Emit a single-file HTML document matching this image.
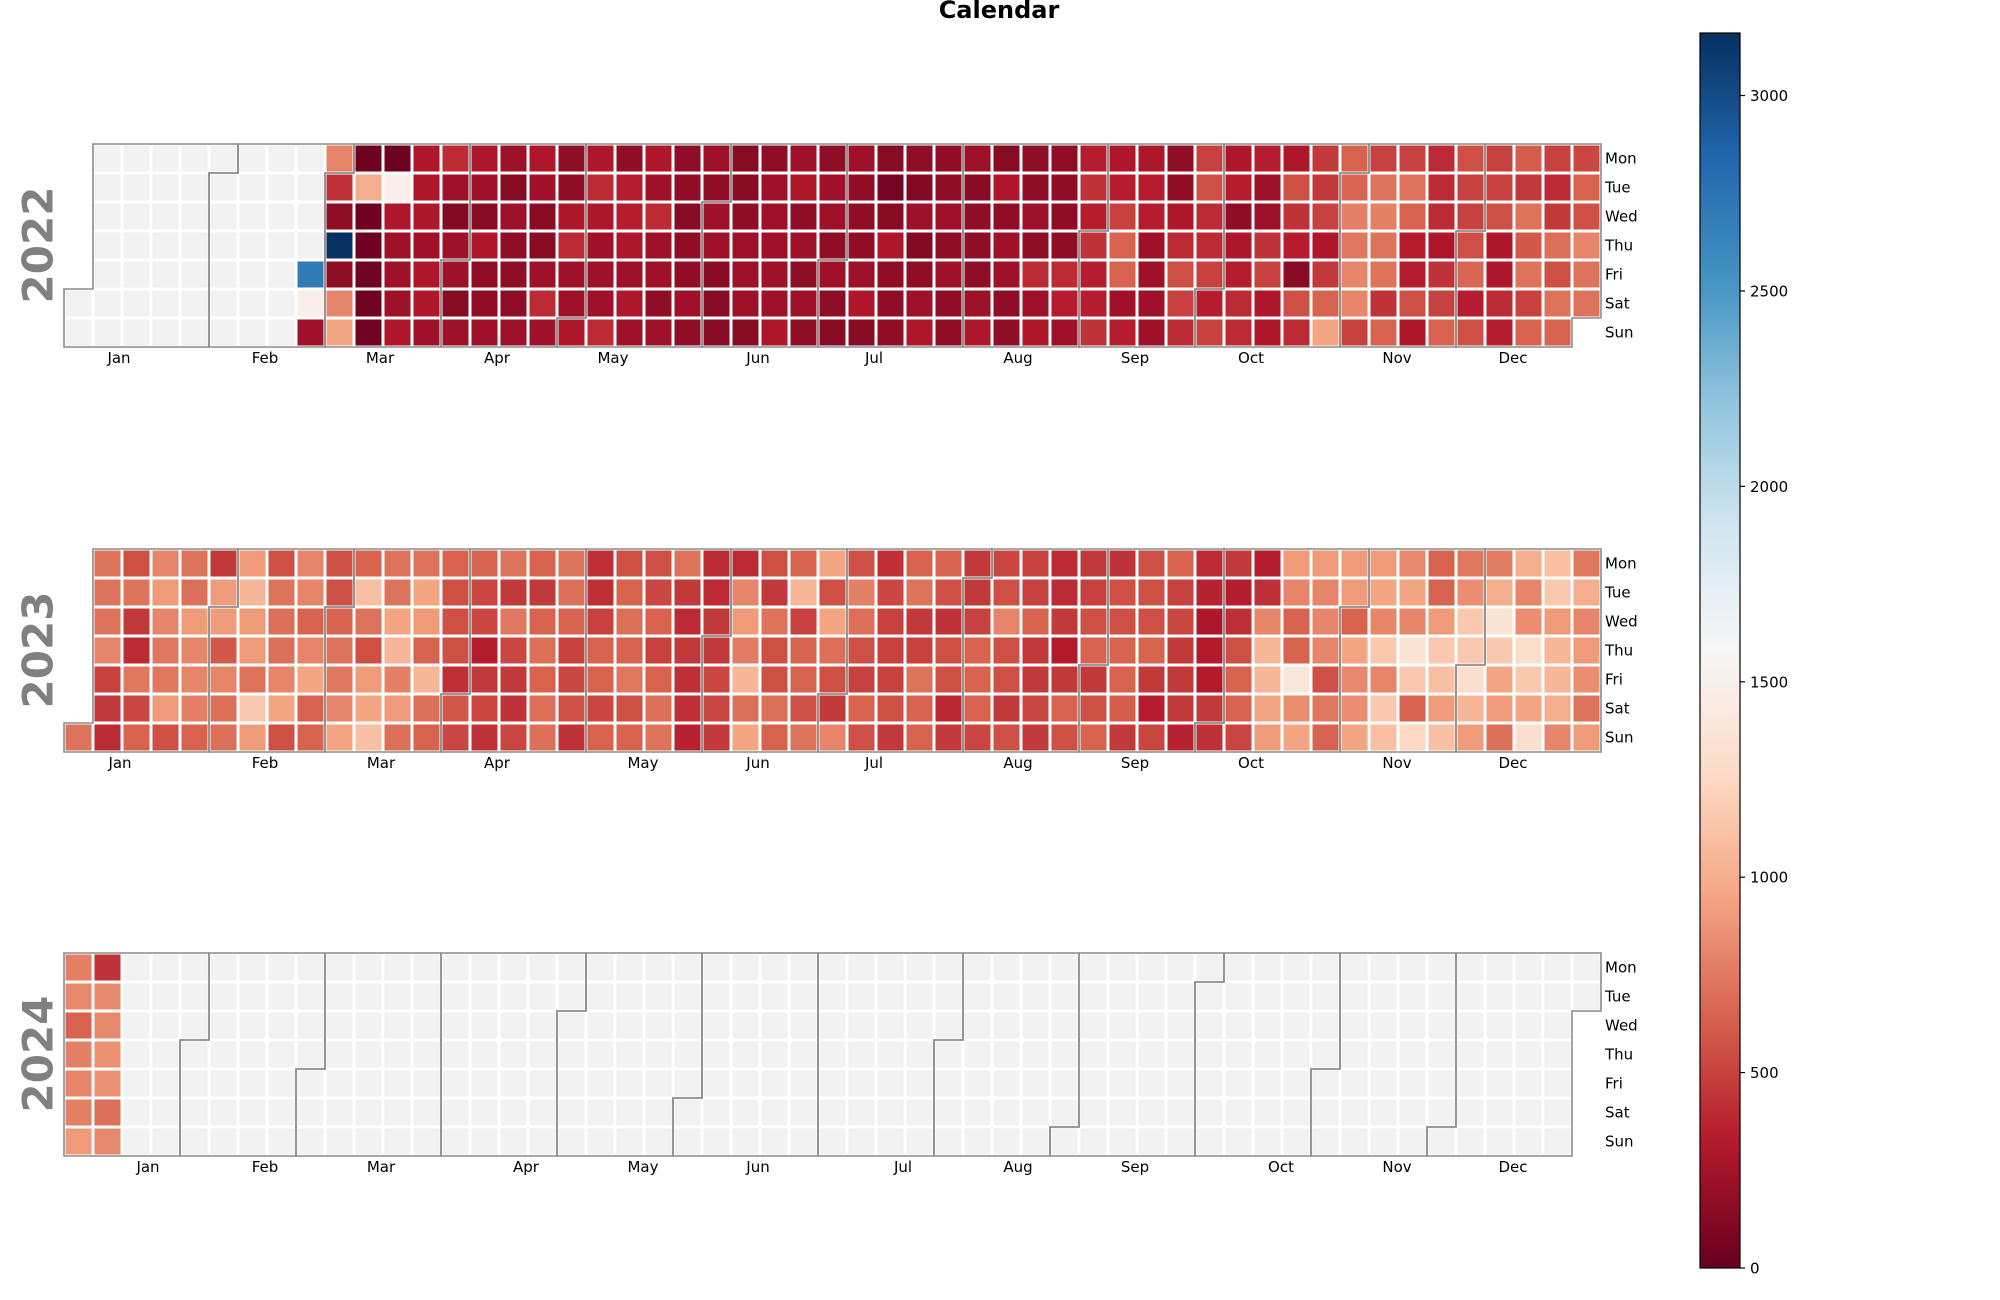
<!DOCTYPE html>
<html><head><meta charset="utf-8"><style>
html,body{margin:0;padding:0;background:#fff;}
svg{display:block;font-family:"DejaVu Sans","Liberation Sans",sans-serif;}
</style></head><body>
<svg id="chart" width="2000" height="1300" viewBox="0 0 2000 1300" xmlns="http://www.w3.org/2000/svg">
<defs>
<linearGradient id="rdbu" x1="0" y1="1" x2="0" y2="0">
<stop offset="0" stop-color="#67001f"/><stop offset="0.1" stop-color="#b2182b"/><stop offset="0.2" stop-color="#d6604d"/><stop offset="0.3" stop-color="#f4a582"/><stop offset="0.4" stop-color="#fddbc7"/><stop offset="0.5" stop-color="#f7f7f7"/><stop offset="0.6" stop-color="#d1e5f0"/><stop offset="0.7" stop-color="#92c5de"/><stop offset="0.8" stop-color="#4393c3"/><stop offset="0.9" stop-color="#2166ac"/><stop offset="1" stop-color="#053061"/>
</linearGradient>
</defs>
<text x="999" y="18" text-anchor="middle" font-size="24" font-weight="bold" fill="#000">Calendar</text>
</svg>
<script>
const years = [2022, 2023, 2024];
const vmin = 0, vmax = 3160;
const cbTicks = [0, 500, 1000, 1500, 2000, 2500, 3000];
const dayNames = ["Mon","Tue","Wed","Thu","Fri","Sat","Sun"];
const monthNames = ["Jan","Feb","Mar","Apr","May","Jun","Jul","Aug","Sep","Oct","Nov","Dec"];
const N = null;
const n8 = [N,N,N,N,N,N,N,N];
// 2022 values by weekday row, indexed by week column
const v2022Mon = [...n8,N,800,30,30,300,400,300,230,300,170,300,170,300,170,230,140,170,230,170,230,140,170,170,230,140,170,170,340,300,300,170,500,300,340,300,460,640,500,500,400,560,500,620,500,520];
const v2022Tue = [...n8,N,430,1000,1480,300,230,230,140,230,170,400,340,230,170,170,140,230,300,230,170,60,120,170,140,300,170,170,430,340,340,170,560,340,230,560,460,660,720,720,400,500,500,460,400,640];
const v2022Wed = [...n8,N,170,30,300,300,120,140,230,140,300,300,340,400,140,230,170,230,170,230,170,140,230,230,170,170,230,170,340,500,340,300,400,170,230,430,500,780,780,640,400,500,560,720,460,560];
const v2022Thu = [...n8,N,3158,30,230,230,230,300,170,140,400,230,300,230,170,230,230,230,230,170,170,300,120,170,170,230,170,170,430,640,230,400,400,300,430,340,300,740,720,340,300,560,300,600,700,800];
const v2022Fri = [...n8,2700,170,40,230,300,230,170,170,230,230,230,230,230,170,140,230,230,170,230,230,170,170,230,170,230,400,400,340,640,230,560,500,340,500,140,460,800,720,340,430,660,300,720,560,720];
const v2022Sat = [...n8,1480,800,40,230,300,140,170,170,400,230,230,300,170,230,140,230,230,230,170,300,170,230,170,230,170,230,340,340,230,230,500,340,400,300,560,640,800,430,560,500,340,400,500,720,720];
const v2022Sun = [...n8,230,950,40,300,230,230,230,230,230,300,400,230,230,170,140,140,300,170,140,140,170,300,170,300,170,300,230,430,340,230,400,500,400,300,400,950,500,640,300,640,560,340,640,640,N];
// 2023
const v2023Mon = [N,720,560,800,720,460,900,560,800,560,640,720,720,640,640,720,640,720,420,560,560,720,400,400,560,640,950,560,420,640,640,460,520,500,400,460,430,560,640,400,460,330,900,900,900,900,820,640,740,760,1000,1100,740];
const v2023Tue = [N,720,720,900,700,900,1050,720,800,560,1100,720,950,560,520,460,460,700,420,640,520,460,400,800,460,1050,560,780,520,720,560,460,560,500,400,500,560,560,500,360,340,420,800,800,900,950,950,640,840,1000,800,1150,1000];
const v2023Wed = [N,720,460,800,900,900,900,700,640,640,720,950,900,560,520,740,640,640,500,700,640,400,460,900,720,500,950,700,500,460,430,500,800,640,460,560,560,560,520,300,420,800,640,800,640,800,800,900,1150,1350,840,900,800];
const v2023Thu = [N,800,400,740,800,600,900,700,800,720,560,1050,640,560,340,520,700,500,640,640,500,460,460,760,560,640,700,560,500,500,560,640,560,460,320,640,640,640,460,320,560,1050,640,800,950,1150,1350,1150,1150,1150,1300,1050,900];
const v2023Fri = [N,500,740,740,800,800,720,800,950,740,900,780,1050,420,460,460,640,520,640,740,640,420,520,1050,560,640,560,500,500,720,560,640,560,460,460,460,640,460,460,320,640,1050,1400,560,820,800,1150,1100,1300,950,1150,1050,840];
const v2023Sat = [N,460,520,900,780,700,1150,950,640,800,950,900,700,600,520,430,700,560,520,560,700,420,520,700,700,560,460,640,560,640,380,640,460,520,640,560,620,340,460,460,640,950,840,740,840,1150,640,900,1050,900,950,1000,720];
const v2023Sun = [720,400,640,560,640,700,900,560,640,950,1100,700,640,520,430,520,700,430,640,640,720,360,460,950,640,720,800,560,460,640,460,520,560,460,560,640,460,520,360,420,520,900,950,640,950,1100,1250,1100,900,700,1300,800,900];
// 2024
const v2024Mon = [780,430];
const v2024Tue = [820,820];
const v2024Wed = [640,820];
const v2024Thu = [780,860];
const v2024Fri = [800,860];
const v2024Sat = [780,700];
const v2024Sun = [900,820];

const rowsByYear = {
  2022: [v2022Mon,v2022Tue,v2022Wed,v2022Thu,v2022Fri,v2022Sat,v2022Sun],
  2023: [v2023Mon,v2023Tue,v2023Wed,v2023Thu,v2023Fri,v2023Sat,v2023Sun],
  2024: [v2024Mon,v2024Tue,v2024Wed,v2024Thu,v2024Fri,v2024Sat,v2024Sun]
};
// layout
const L = {left:64, pitch:29, tops:[144,549,953], cb:{x:1700,w:40,top:33,bottom:1268}};
const monthLabelX = {
  2022:[119,265,380,497,613,758,874,1018,1135,1251,1397,1513],
  2023:[120,265,381,497,643,758,874,1018,1135,1251,1397,1513],
  2024:[148,265,381,526,643,758,903,1018,1135,1281,1397,1513]
};

const stops=[[0,[103,0,31]],[0.1,[178,24,43]],[0.2,[214,96,77]],[0.3,[244,165,130]],[0.4,[253,219,199]],[0.5,[247,247,247]],[0.6,[209,229,240]],[0.7,[146,197,222]],[0.8,[67,147,195]],[0.9,[33,102,172]],[1,[5,48,97]]];
function cmap(v){
  let t=Math.max(0,Math.min(1,(v-vmin)/(vmax-vmin)));
  for(let i=1;i<stops.length;i++){
    if(t<=stops[i][0]){
      const a=stops[i-1],b=stops[i],f=(t-a[0])/(b[0]-a[0]);
      const c=a[1].map((x,k)=>Math.round(x+(b[1][k]-x)*f));
      return `rgb(${c[0]},${c[1]},${c[2]})`;
    }
  }
  return "rgb(5,48,97)";
}
const NS="http://www.w3.org/2000/svg";
const svg=document.getElementById("chart");
function mk(tag,attrs,parent){const e=document.createElementNS(NS,tag);for(const k in attrs)e.setAttribute(k,attrs[k]);(parent||svg).appendChild(e);return e;}
function xCol(c){return L.left+c*L.pitch;}

years.forEach((Y,yi)=>{
  const top=L.tops[yi];
  const yRow=r=>top+r*L.pitch;
  const w0=(new Date(Y,0,1).getDay()+6)%7;
  const nd=((Y%4===0&&Y%100!==0)||Y%400===0)?366:365;
  const g=mk("g",{});
  
  
  const rows=rowsByYear[Y];
  for(let c=0;c<53;c++){
    for(let r=0;r<7;r++){
      const doy=7*c+r-w0;
      if(doy<0||doy>=nd) continue;
      const v=rows[r][c];
      const fill=(v===null||v===undefined)?"#f2f2f2":cmap(v);
      const rect=mk("rect",{x:xCol(c)+1.5,y:yRow(r)+1.5,width:L.pitch-3,height:L.pitch-3,fill:fill},g);
      
      
    }
  }
  for(let m=0;m<12;m++){
    const f=new Date(Y,m,1), l=new Date(Y,m+1,0);
    const d1=Math.round((f-new Date(Y,0,1))/864e5), d2=Math.round((l-new Date(Y,0,1))/864e5);
    const c1=Math.floor((d1+w0)/7), r1=(d1+w0)%7, c2=Math.floor((d2+w0)/7), r2=(d2+w0)%7;
    const pts=[[c1,7],[c1,r1],[c1+1,r1],[c1+1,0],[c2+1,0],[c2+1,r2+1],[c2,r2+1],[c2,7]];
    const p=mk("polygon",{points:pts.map(q=>xCol(q[0])+","+yRow(q[1])).join(" "),fill:"none",stroke:"#8c8c8c","stroke-width":1.6},g);
    
    
    const t=mk("text",{x:monthLabelX[Y][m],y:top+219,"text-anchor":"middle","font-size":15,fill:"#000"},g);
    t.textContent=monthNames[m];
    
    
  }
  dayNames.forEach((d,r)=>{
    const t=mk("text",{x:1605,y:yRow(r)+19.5,"font-size":15,fill:"#000"},g);
    t.textContent=d;
    
    
  });
  const cy=top+101;
  const yl=mk("text",{x:38,y:cy,transform:`rotate(-90 38 ${cy})`,"text-anchor":"middle","dominant-baseline":"central","font-size":42,"font-weight":"bold",fill:"#808080"},g);
  yl.textContent=String(Y);
  
  
});

const cb=L.cb;
const cbg=mk("g",{});


const cbr=mk("rect",{x:cb.x,y:cb.top,width:cb.w,height:cb.bottom-cb.top,fill:"url(#rdbu)",stroke:"#000","stroke-width":1.2},cbg);


function yCb(v){return cb.bottom-(v-vmin)/(vmax-vmin)*(cb.bottom-cb.top);}
cbTicks.forEach(v=>{
  const y=yCb(v);
  const tl=mk("line",{x1:cb.x+cb.w,x2:cb.x+cb.w+5,y1:y,y2:y,stroke:"#000","stroke-width":1.2},cbg);
  
  
  const t=mk("text",{x:cb.x+cb.w+10,y:y+5.5,"font-size":15,fill:"#000"},cbg);
  t.textContent=String(v);
  
  
});
</script>
</body></html>
